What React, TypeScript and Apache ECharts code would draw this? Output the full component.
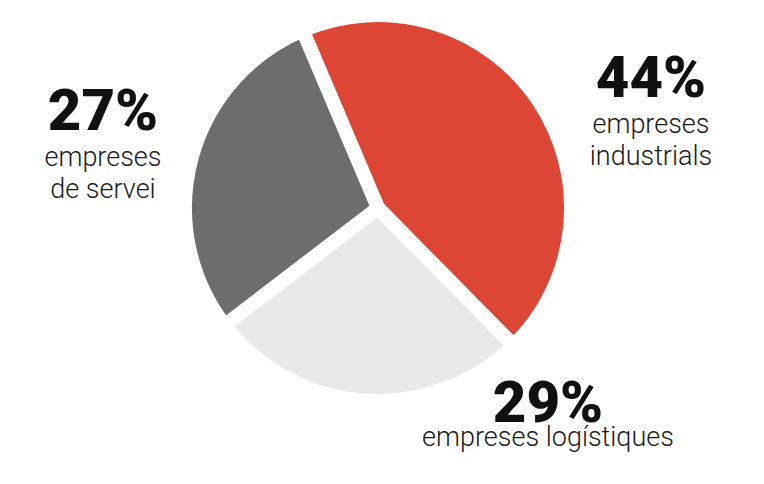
import React, { useEffect, useRef } from "react";
import * as echarts from "echarts";

// Slices in clockwise order, as drawn (share of the circle, %)
const sliceNames = ["industrials", "logístiques", "servei"];
const sliceValues = [44, 27, 29];
const sliceColors = ["#DD4535", "#E9E9E9", "#6D6D6D"];

// Label texts as printed next to each slice
const percentLabels = ["44%", "29%", "27%"];
const captionLines = [
  ["empreses", "industrials"],
  ["empreses logístiques"],
  ["empreses", "de servei"],
];

// Label anchor positions (block centre x, block top y)
const labelAnchors = [
  [651, 45],
  [548, 383],
  [103, 78],
];

export default function App() {
  const ref = useRef<HTMLDivElement>(null);

  useEffect(() => {
    if (!ref.current) return;
    const chart = echarts.init(ref.current, null, { renderer: "svg" });
    chart.setOption({
      animation: false,
      backgroundColor: "#ffffff",
      series: [
        {
          type: "pie",
          center: [378, 208],
          radius: 193,
          startAngle: 113,
          clockwise: true,
          avoidLabelOverlap: false,
          emphasis: { disabled: true },
          itemStyle: { borderColor: "#ffffff", borderWidth: 14 },
          labelLine: { show: false },
          label: {
            show: true,
            position: "outside",
            color: "#111111",
            fontFamily: "Roboto",
            formatter: (p: any) => {
              const i = p.dataIndex;
              const tag = i === 1 ? "q" : "p";
              const lines = captionLines[i].map((t) => `{n|${t}}`).join("\n");
              return `{${tag}|${percentLabels[i]}}\n${lines}`;
            },
            rich: {
              p: {
                fontFamily: "Roboto",
                fontWeight: 900,
                fontSize: 58,
                lineHeight: 63,
                color: "#111111",
                align: "center",
              },
              q: {
                fontFamily: "Roboto",
                fontWeight: 900,
                fontSize: 58,
                lineHeight: 38,
                color: "#111111",
                align: "center",
              },
              n: {
                fontFamily: "Roboto",
                fontWeight: 300,
                fontSize: 27,
                lineHeight: 32,
                color: "#1a1a1a",
                align: "center",
              },
            },
          },
          labelLayout: (params: any) => {
            const a = labelAnchors[params.dataIndex];
            return { x: a[0], y: a[1], align: "center", verticalAlign: "top" };
          },
          data: sliceValues.map((v, i) => ({
            name: sliceNames[i],
            value: v,
            itemStyle: { color: sliceColors[i] },
          })),
        },
      ],
    });
    return () => chart.dispose();
  }, []);

  return (
    <div
      ref={ref}
      style={{ position: "fixed", left: 0, top: 0, width: 764, height: 484 }}
    />
  );
}
